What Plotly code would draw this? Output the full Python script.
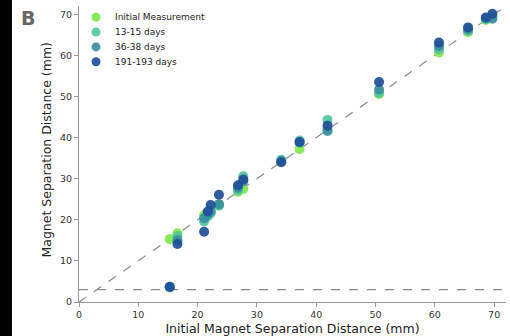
import plotly.graph_objects as go

initial_x = [15.3, 16.6, 21.1, 21.7, 22.2, 23.6, 26.8, 27.7, 34.1, 37.2, 41.9, 50.6, 60.7, 65.6, 68.6, 69.7]
initial_meas = [15.3, 16.7, 21.1, 21.7, 22.2, 23.6, 26.8, 27.5, 34.1, 37.2, 41.9, 50.6, 60.7, 65.6, 68.6, 69.6]
days_13_15 = [3.6, 16.0, 19.6, 20.8, 21.6, 23.4, 27.2, 30.6, 34.6, 39.3, 44.3, 50.9, 61.5, 65.9, 68.8, 69.2]
days_36_38 = [3.6, 15.0, 20.4, 21.3, 22.0, 23.8, 27.8, 29.4, 34.3, 38.8, 41.6, 51.7, 62.3, 66.3, 69.1, 68.9]
days_191_193 = [3.7, 14.1, 17.1, 22.0, 23.6, 26.1, 28.4, 29.8, 34.0, 38.9, 42.9, 53.5, 63.1, 66.8, 69.2, 70.1]

series_names = ["Initial Measurement", "13-15 days", "36-38 days", "191-193 days"]
series_values = [initial_meas, days_13_15, days_36_38, days_191_193]
series_colors = ["#7fe84c", "#52c4a2", "#3a8e9e", "#1f4f98"]

axis_max = 72
threshold = 3

fig = go.Figure()
fig.add_trace(go.Scatter(x=[0, axis_max], y=[0, axis_max], mode="lines",
                         line=dict(color="#8a8a8a", width=1.2, dash="dash"),
                         showlegend=False, hoverinfo="skip"))
fig.add_trace(go.Scatter(x=[0, axis_max], y=[threshold, threshold], mode="lines",
                         line=dict(color="#8a8a8a", width=1.2, dash="dash"),
                         showlegend=False, hoverinfo="skip"))
for name, vals, col in zip(series_names, series_values, series_colors):
    fig.add_trace(go.Scatter(x=initial_x, y=vals, mode="markers", name=name,
                             showlegend=False,
                             marker=dict(color=col, size=10, opacity=0.92,
                                         line=dict(width=0))))

axis_common = dict(range=[0, axis_max], showgrid=False, zeroline=False,
                   showline=True, linecolor="#999999", linewidth=1,
                   ticks="outside", ticklen=4, tickcolor="#999999",
                   tickfont=dict(size=9.5, color="#333333"), dtick=10,
                   automargin=False)
fig.update_xaxes(**axis_common,
                 title=dict(text="Initial Magnet Separation Distance (mm)",
                            font=dict(size=12.5, color="#222222"), standoff=8))
fig.update_yaxes(**axis_common)

shapes = [dict(type="rect", xref="paper", yref="paper",
               x0=-0.19, x1=-0.157, y0=-0.13, y1=1.03,
               fillcolor="black", line=dict(width=0), layer="above")]
annotations = [
    dict(text="<b>B</b>", xref="paper", yref="paper",
         x=-0.12, y=0.96, xanchor="center", yanchor="middle",
         showarrow=False, font=dict(size=19, color="#666666")),
    dict(text="Magnet Separation Distance (mm)", xref="paper", yref="paper",
         x=-32 / 427, y=0.515, xanchor="center", yanchor="middle",
         textangle=-90, showarrow=False,
         font=dict(size=12.5, color="#222222")),
]
for i, (name, col) in enumerate(zip(series_names, series_colors)):
    cy = -11.3 - 14.8 * i
    shapes.append(dict(type="circle", xref="paper", yref="paper",
                       xsizemode="pixel", ysizemode="pixel",
                       xanchor=0, yanchor=1,
                       x0=17 - 4.5, x1=17 + 4.5, y0=cy - 4.5, y1=cy + 4.5,
                       fillcolor=col, line=dict(width=0), opacity=0.92))
    annotations.append(dict(text=name, xref="paper", yref="paper",
                            x=34 / 427, y=1 + cy / 295.7,
                            xanchor="left", yanchor="middle", showarrow=False,
                            font=dict(size=9, color="#222222")))

fig.update_layout(
    width=510, height=336,
    margin=dict(l=79, r=4, t=6, b=34),
    paper_bgcolor="white", plot_bgcolor="white",
    font=dict(family="DejaVu Sans"),
    showlegend=False,
    shapes=shapes,
    annotations=annotations,
)

fig.write_html("out.html", config={"displayModeBar": False},
               post_script="document.body.style.margin='0';document.body.style.padding='0';document.body.style.overflow='hidden';")
